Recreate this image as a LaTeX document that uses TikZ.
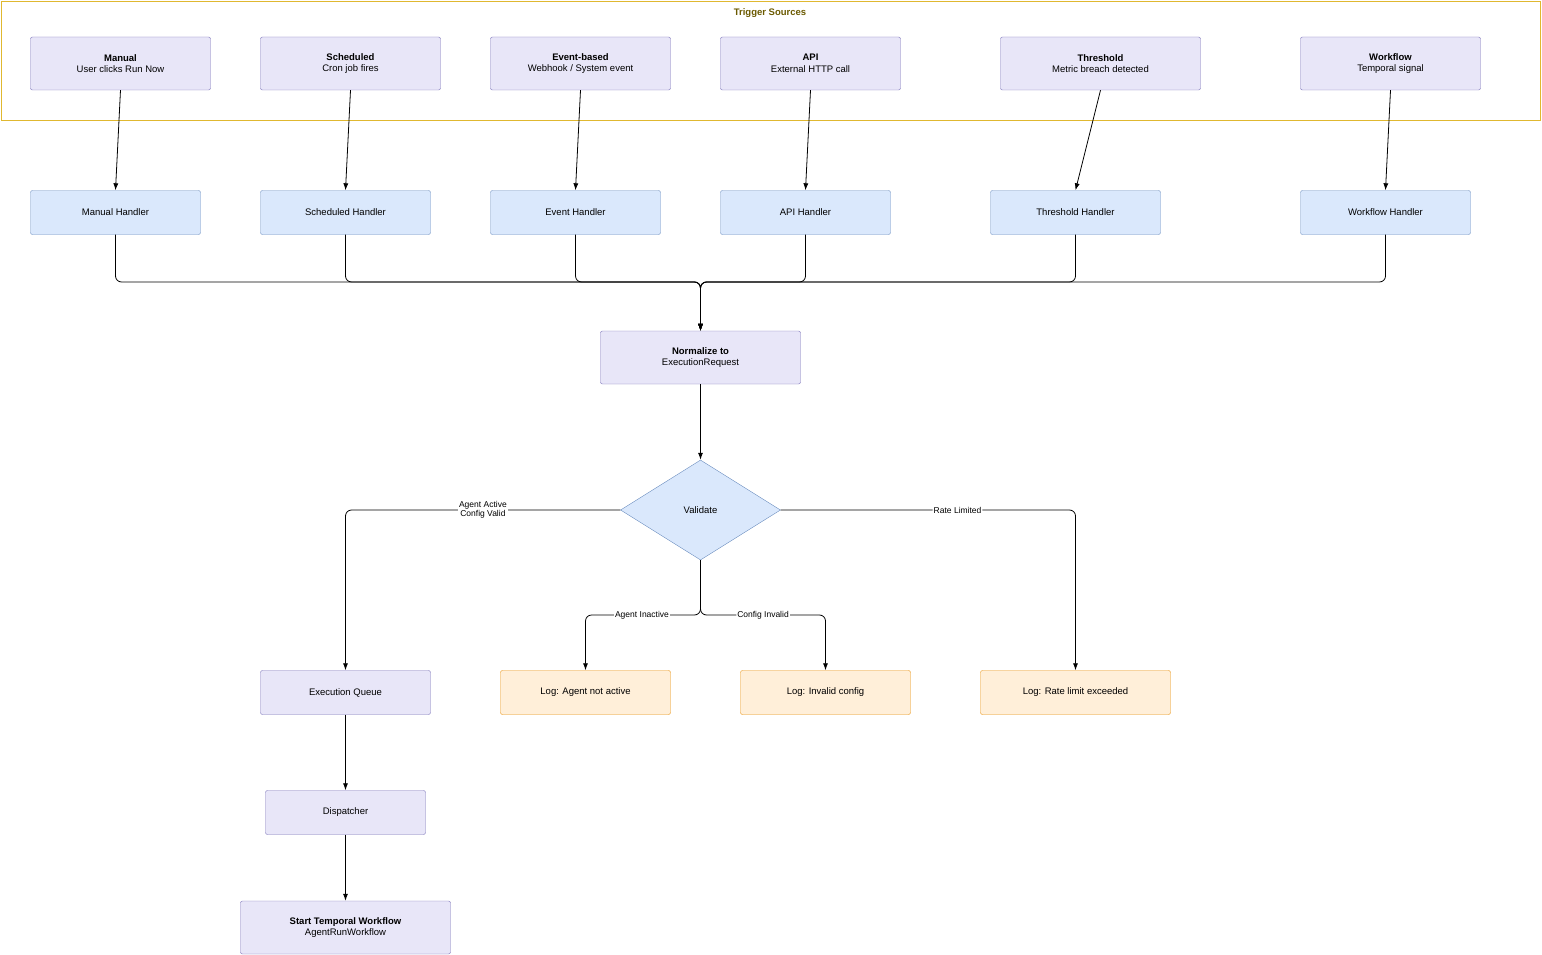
\documentclass[tikz,border=0pt]{standalone}
\usepackage{fontspec}
\setmainfont{Liberation Sans}
\usetikzlibrary{arrows.meta,positioning,shapes.geometric}
\definecolor{srcfill}{HTML}{E8E6F8}
\definecolor{srcdraw}{HTML}{7A72B8}
\definecolor{hdlfill}{HTML}{DAE8FC}
\definecolor{hdldraw}{HTML}{6C8EBF}
\definecolor{logfill}{HTML}{FFEFD9}
\definecolor{logdraw}{HTML}{E8900C}
\definecolor{grpdraw}{HTML}{E0B830}
\definecolor{grptext}{HTML}{6B5A00}
\tikzset{>={Latex[width=5pt,length=7pt]}}

\begin{document}
\begin{tikzpicture}[x=1pt,y=-1pt,
  font=\fontsize{9.5}{11.5}\selectfont,
  box/.style={draw=srcdraw,fill=srcfill,rounded corners=2pt,align=center,
    minimum width=#1,inner sep=0pt},
  src/.style={box=180pt,minimum height=53pt},
  hdl/.style={draw=hdldraw,fill=hdlfill,rounded corners=2pt,minimum width=170pt,
    minimum height=44pt,inner sep=0pt},
  logbox/.style={draw=logdraw,fill=logfill,rounded corners=2pt,minimum width=170pt,
    minimum height=44pt,inner sep=0pt},
  edge/.style={->,line width=0.8pt},
  merge/.style={line width=0.8pt,rounded corners=6pt},
  lbl/.style={fill=white,inner sep=1pt,align=center,font=\fontsize{8.5}{9.5}\selectfont}]

  \useasboundingbox (0,0) rectangle (1542,955);

  % trigger sources group
  \draw[grpdraw,fill=white] (1,1) rectangle (1540,120);
  \node[text=grptext,font=\fontsize{9.5}{11.5}\selectfont\bfseries] (grp) at (770,13) {Trigger Sources};

  \node[src] (manual) at (120.5,63.5) {\textbf{Manual}\\User clicks Run Now};
  \node[src] (sched) at (350.5,63.5) {\textbf{Scheduled}\\Cron job fires};
  \node[src] (event) at (580.5,63.5) {\textbf{Event-based}\\Webhook / System event};
  \node[src] (api) at (810.5,63.5) {\textbf{API}\\External HTTP call};
  \node[src,minimum width=200pt] (thresh) at (1100.5,63.5) {\textbf{Threshold}\\Metric breach detected};
  \node[src] (wflow) at (1390.5,63.5) {\textbf{Workflow}\\Temporal signal};

  % handlers
  \node[hdl] (hmanual) at (115.5,212.5) {Manual Handler};
  \node[hdl] (hsched) at (345.5,212.5) {Scheduled Handler};
  \node[hdl] (hevent) at (575.5,212.5) {Event Handler};
  \node[hdl] (hapi) at (805.5,212.5) {API Handler};
  \node[hdl] (hthresh) at (1075.5,212.5) {Threshold Handler};
  \node[hdl] (hwflow) at (1385.5,212.5) {Workflow Handler};

  \foreach \s/\h in {manual/hmanual,sched/hsched,event/hevent,api/hapi,thresh/hthresh,wflow/hwflow}
    \draw[edge] (\s.south) -- (\h.north);

  \node[box=200pt,minimum height=53pt] (norm) at (700.5,357.5) {\textbf{Normalize to}\\ExecutionRequest};

  \foreach \h in {hmanual,hsched,hevent,hapi,hthresh,hwflow}
    \draw[merge,->] (\h.south) |- (700.5,282) -- (norm.north);

  \node[diamond,draw=hdldraw,fill=hdlfill,minimum width=160pt,minimum height=100pt,
    inner sep=0pt,aspect=1.6] (valid) at (700.5,510) {Validate};
  \draw[edge] (norm) -- (valid);

  \node[box=170pt,minimum height=44pt] (queue) at (345.5,692.5) {Execution Queue};
  \node[logbox] (loginact) at (585.5,692.5) {Log: Agent not active};
  \node[logbox] (logcfg) at (825.5,692.5) {Log: Invalid config};
  \node[logbox,minimum width=190pt] (lograte) at (1075.5,692.5) {Log: Rate limit exceeded};

  \draw[edge,rounded corners=6pt] (valid.west) -| node[lbl,pos=0.25] {Agent Active\\Config Valid} (queue.north);
  \draw[edge,rounded corners=6pt] (valid.east) -| node[lbl,pos=0.3] {Rate Limited} (lograte.north);
  \draw[edge,rounded corners=6pt] (valid.south) |- (642,615) node[lbl] {Agent Inactive} -| (loginact.north);
  \draw[edge,rounded corners=6pt] (valid.south) |- (763,615) node[lbl] {Config Invalid} -| (logcfg.north);

  \node[box=160pt,minimum height=44pt] (disp) at (345.5,812.5) {Dispatcher};
  \node[box=210pt,minimum height=53pt] (start) at (345.5,927.5) {\textbf{Start Temporal Workflow}\\AgentRunWorkflow};
  \draw[edge] (queue) -- (disp);
  \draw[edge] (disp) -- (start);
\end{tikzpicture}
\end{document}
